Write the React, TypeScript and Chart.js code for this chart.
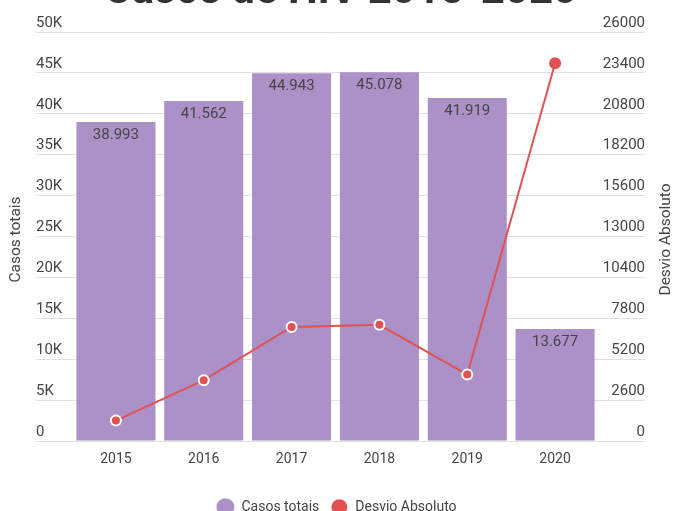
import React, { useEffect, useRef } from 'react';
import { Chart, registerables } from 'chart.js';

Chart.register(...registerables);

const TITLE = 'Casos de HIV 2015-2020';
const YEARS = ['2015', '2016', '2017', '2018', '2019', '2020'];
const CASOS_TOTAIS = [38993, 41562, 44943, 45078, 41919, 13677];
const DESVIO_ABSOLUTO = [1298, 3867, 7248, 7383, 4224, 24018];
const SERIES_NAMES = ['Casos totais', 'Desvio Absoluto'];
const LEFT_AXIS = { min: 0, max: 50000, step: 5000 };
const RIGHT_AXIS = { min: 0, max: 26000, step: 2600 };

const PURPLE = '#ab91c8';
const RED = '#e05252';
const GRID = '#e0e0e0';
const TEXT = '#454545';
const FONT = 'Roboto';

const W = 673;
const H = 553;
const TOP_SHIFT = 29;

const fmtThousands = (v: number) =>
  String(v).replace(/\B(?=(\d{3})+(?!\d))/g, '.');

const barLabels = {
  id: 'barLabels',
  afterDatasetsDraw(chart: any) {
    const meta = chart.getDatasetMeta(0);
    const ctx = chart.ctx;
    ctx.save();
    ctx.font = `15px ${FONT}`;
    ctx.fillStyle = TEXT;
    ctx.textAlign = 'center';
    ctx.textBaseline = 'middle';
    meta.data.forEach((el: any, i: number) => {
      ctx.fillText(fmtThousands(CASOS_TOTAIS[i]), el.x, el.y + 13);
    });
    ctx.restore();
  },
};

const axisTitles = {
  id: 'axisTitles',
  afterLayout(chart: any) {
    // centre the legend on the whole canvas width
    if (chart.legend) {
      chart.legend.left = 0;
      chart.legend.right = W;
    }
  },
  afterDraw(chart: any) {
    const { ctx, chartArea } = chart;
    const cy = (chartArea.top + chartArea.bottom) / 2 + 3;
    ctx.save();
    ctx.font = `15.5px ${FONT}`;
    ctx.fillStyle = TEXT;
    ctx.textAlign = 'center';
    ctx.textBaseline = 'middle';
    ctx.save();
    ctx.translate(16, cy);
    ctx.rotate(-Math.PI / 2);
    ctx.fillText(SERIES_NAMES[0], 0, 0);
    ctx.restore();
    ctx.save();
    ctx.translate(666, cy);
    ctx.rotate(-Math.PI / 2);
    ctx.fillText(SERIES_NAMES[1], 0, 0);
    ctx.restore();
    ctx.restore();
  },
};

export default function App() {
  const ref = useRef<HTMLCanvasElement>(null);

  useEffect(() => {
    if (!ref.current) return;
    Chart.defaults.font.family = FONT;
    const chart = new Chart(ref.current, {
      type: 'bar',
      data: {
        labels: YEARS,
        datasets: [
          {
            type: 'bar',
            label: SERIES_NAMES[0],
            data: CASOS_TOTAIS,
            backgroundColor: PURPLE,
            borderWidth: 0,
            yAxisID: 'y',
            order: 1,
            categoryPercentage: 1,
            barPercentage: 0.9,
          } as any,
          {
            type: 'line',
            label: SERIES_NAMES[1],
            data: DESVIO_ABSOLUTO,
            borderColor: RED,
            backgroundColor: RED,
            borderWidth: 2,
            pointRadius: 5,
            pointBorderWidth: 2,
            pointBackgroundColor: RED,
            pointBorderColor: ['#fff', '#fff', '#fff', '#fff', '#fff', RED],
            yAxisID: 'y1',
            order: 0,
            tension: 0,
          } as any,
        ],
      },
      options: {
        responsive: false,
        animation: false,
        layout: { padding: { left: 36, right: 28, top: 0, bottom: 0 } },
        plugins: {
          title: {
            display: true,
            text: TITLE,
            color: '#333',
            font: { size: 42, weight: 'bold', lineHeight: 1 },
            padding: { top: 0, bottom: 19 },
          },
          legend: {
            position: 'bottom',
            labels: {
              usePointStyle: true,
              pointStyle: 'circle',
              pointStyleWidth: 18,
              boxWidth: 18,
              boxHeight: 12.5,
              color: TEXT,
              font: { size: 14 },
              padding: 11,
              sort: (a: any, b: any) => a.datasetIndex - b.datasetIndex,
            },
          },
          tooltip: { enabled: false },
        },
        scales: {
          x: {
            grid: { display: false, drawTicks: false },
            border: { display: false },
            ticks: { color: TEXT, font: { size: 14 }, padding: 10 },
            afterFit: (s: any) => {
              s.height = 48;
            },
          },
          y: {
            type: 'linear',
            position: 'left',
            min: LEFT_AXIS.min,
            max: LEFT_AXIS.max,
            ticks: {
              stepSize: LEFT_AXIS.step,
              callback: (v: any) => (Number(v) === 0 ? '0' : Math.round(Number(v) / 1000) + 'K'),
              crossAlign: 'far',
              labelOffset: -9,
              padding: 0,
              color: TEXT,
              font: { size: 15 },
            },
            grid: { color: GRID, lineWidth: 1, drawTicks: true, tickLength: 36, tickColor: GRID },
            border: { display: false },
            afterFit: (s: any) => {
              s.width = 36;
            },
          },
          y1: {
            type: 'linear',
            position: 'right',
            min: RIGHT_AXIS.min,
            max: RIGHT_AXIS.max,
            ticks: {
              stepSize: RIGHT_AXIS.step,
              callback: (v: any) => String(Math.round(Number(v))),
              crossAlign: 'far',
              labelOffset: -9,
              padding: 0,
              color: TEXT,
              font: { size: 15 },
            },
            grid: { drawOnChartArea: false, color: GRID, lineWidth: 1, drawTicks: true, tickLength: 46, tickColor: GRID },
            border: { display: false },
            afterFit: (s: any) => {
              s.width = 46;
            },
          },
        },
      } as any,
      plugins: [barLabels, axisTitles],
    });
    return () => chart.destroy();
  }, []);

  return (
    <div
      style={{
        position: 'fixed',
        left: 0,
        top: -TOP_SHIFT,
        width: W,
        height: H,
        overflow: 'hidden',
        background: '#fff',
      }}
    >
      <canvas ref={ref} width={W} height={H} style={{ width: W, height: H, display: 'block' }} />
    </div>
  );
}
